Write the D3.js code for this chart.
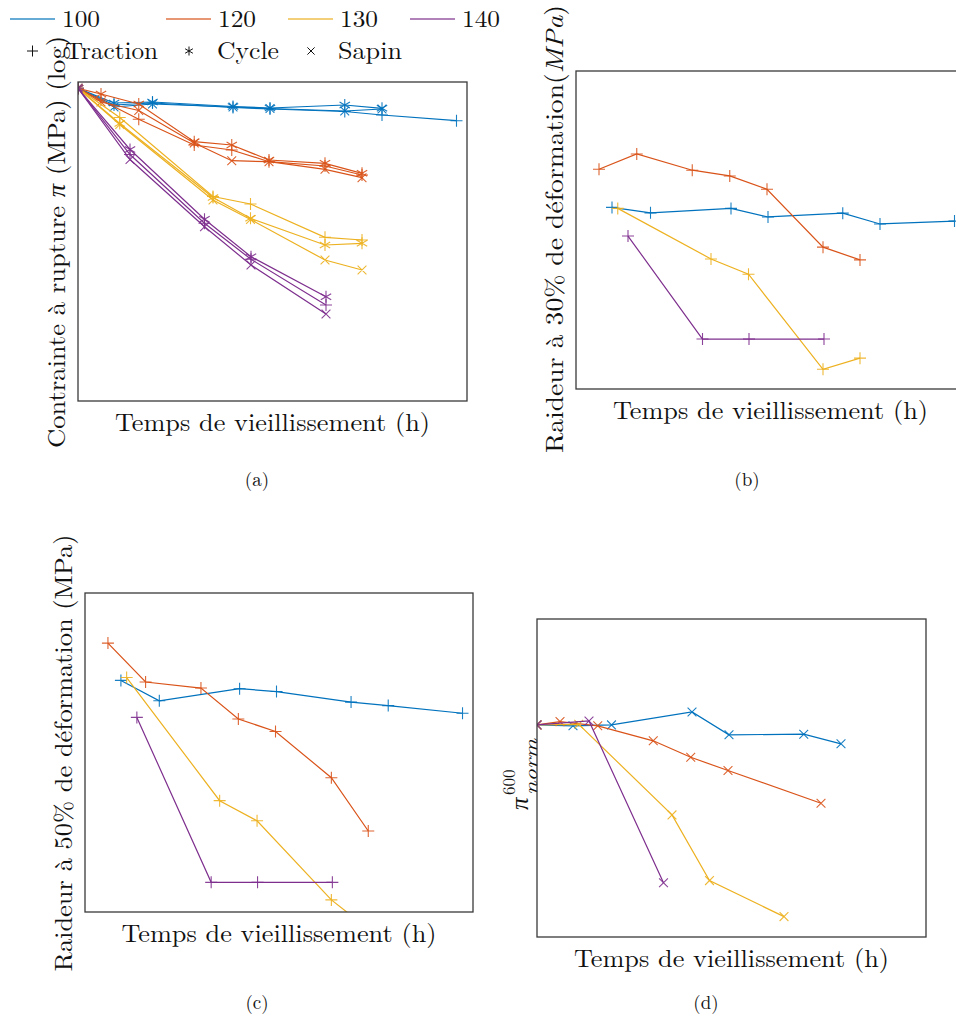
<!DOCTYPE html>
<html><head><meta charset="utf-8">
<script src="https://cdn.jsdelivr.net/npm/d3@7"></script>
<style>
html,body{margin:0;padding:0;background:#fff;overflow:hidden}
text{font-family:"Latin Modern Roman","CMU Serif","Liberation Serif",serif;fill:#111}
</style></head>
<body>
<svg id="chart" width="956" height="1019"></svg>
<script>
// ---------- DATA ----------
const temps = ["100", "120", "130", "140"];
const essais = ["Traction", "Cycle", "Sapin"];
// ageing times (h)
const t100 = [0, 144, 298, 620, 768, 1067, 1216, 1514];
const t120 = [0, 92, 243, 465, 615, 764, 988, 1136];
const t130 = [0, 167, 540, 690, 988, 1136];
const t140 = [0, 208, 506, 692, 992];
// (a) log of failure stress, normalised (x100)
const a100Traction = [0, -1.67, -1.47, -1.92, -2.07, -2.32, -2.67, -3.24];
const a100Cycle    = [0, -1.47, -1.37, -1.82, -1.97, -1.67, -2.00];
const a100Sapin    = [0, -1.87, -1.57, -1.87, -2.02, -2.27, -2.07];
const a120Traction = [0, -1.17, -3.10, -5.67, -6.17, -7.34, -7.77, -8.67];
const a120Cycle    = [0, -0.57, -1.57, -5.34, -5.67, -7.17, -7.50, -8.50];
const a120Sapin    = [0, -1.37, -2.22, -5.47, -7.24, -7.34, -8.10, -8.94];
const a130Traction = [0, -2.92, -10.82, -11.57, -14.90, -15.17];
const a130Cycle    = [0, -3.52, -10.92, -13.00, -15.67, -15.50];
const a130Sapin    = [0, -3.62, -11.17, -13.12, -17.17, -18.17];
const a140Traction = [0, -6.62, -13.50, -17.10, -21.67];
const a140Cycle    = [0, -6.12, -13.10, -16.84, -20.84];
const a140Sapin    = [0, -7.12, -13.84, -17.67, -22.57];
// (b) stiffness at 30% strain
const b100 = [5.71, 5.54, 5.68, 5.41, 5.53, 5.19, 5.28];
const b120 = [6.91, 7.39, 6.88, 6.70, 6.28, 4.46, 4.06];
const b130 = [5.68, 4.09, 3.61, 0.62, 0.97];
const b140 = [4.81, 1.57, 1.57, 1.57];
// (c) stiffness at 50% strain
const c100 = [7.26, 6.62, 7.00, 6.91, 6.58, 6.47, 6.23];
const c120 = [8.43, 7.21, 7.02, 6.05, 5.66, 4.21, 2.54];
const c130 = [7.35, 3.49, 2.86, 0.38, -0.53];
const c140 = [6.10, 0.93, 0.93, 0.93];
// (d) normalised pi 600 (Sapin)
const d100 = [1, 0.997, 1, 1.043, 0.967, 0.969, 0.937];
const d120 = [1, 1.011, 0.997, 0.947, 0.892, 0.848, 0.739];
const d130 = [1, 1.002, 0.700, 0.481, 0.361];
const d140 = [1, 1.013, 0.474];
const t120d = [0, 92, 243, 465, 615, 764, 1136];

// ---------- STYLE ----------
const colors = {"100": "#0072BD", "120": "#D95319", "130": "#EDB120", "140": "#7E2F8E"};
const markerOf = {Traction: "plus", Cycle: "aster", Sapin: "cross"};
const svg = d3.select("#chart");
const xDom = [0, 1556];

function markerPath(type, x, y, s) {
  if (type === "plus") return `M${x - s},${y}H${x + s}M${x},${y - s}V${y + s}`;
  if (type === "cross") { const c = s * 0.8; return `M${x - c},${y - c}L${x + c},${y + c}M${x - c},${y + c}L${x + c},${y - c}`; }
  const cx = s * Math.cos(Math.PI / 6), cy = s * Math.sin(Math.PI / 6);
  return `M${x},${y - s}V${y + s}M${x - cx},${y - cy}L${x + cx},${y + cy}M${x - cx},${y + cy}L${x + cx},${y - cy}`;
}

let clipId = 0;
function panel(box, yDom) {
  const x = d3.scaleLinear(xDom, [box.l, box.r]);
  const y = d3.scaleLinear(yDom, [box.b, box.t]);
  const id = "clip" + (clipId++);
  svg.append("clipPath").attr("id", id).append("rect")
    .attr("x", box.l).attr("y", box.t).attr("width", box.r - box.l).attr("height", box.b - box.t);
  const g = svg.append("g").attr("clip-path", `url(#${id})`);
  svg.append("rect").attr("x", box.l).attr("y", box.t).attr("width", box.r - box.l).attr("height", box.b - box.t)
    .attr("fill", "none").attr("stroke", "#3a3a3a").attr("stroke-width", 1.3);
  return {x, y, g, box};
}
function series(p, times, vals, color, mk) {
  const pts = d3.zip(times, vals);
  const line = d3.line().x(d => p.x(d[0])).y(d => p.y(d[1]));
  p.g.append("path").attr("d", line(pts)).attr("fill", "none").attr("stroke", color).attr("stroke-width", 1.2);
  p.g.append("path").attr("d", pts.map(d => markerPath(mk, p.x(d[0]), p.y(d[1]), mk === "cross" ? 5.5 : 6)).join(""))
    .attr("fill", "none").attr("stroke", color).attr("stroke-width", 1.1).attr("opacity", 0.9);
}
function xLabel(p, len) {
  svg.append("text").attr("x", (p.box.l + p.box.r) / 2).attr("y", p.box.b + 30)
    .attr("text-anchor", "middle").attr("font-size", 25).attr("textLength", len).attr("lengthAdjust", "spacingAndGlyphs")
    .text("Temps de vieillissement (h)");
}
function yLabel(xb, yc, len, parts) {
  const t = svg.append("text").attr("transform", `translate(${xb},${yc}) rotate(-90)`)
    .attr("text-anchor", "middle").attr("font-size", 25).attr("textLength", len).attr("lengthAdjust", "spacingAndGlyphs");
  parts.forEach(([s, it]) => t.append("tspan").attr("font-style", it ? "italic" : null).text(s));
}
function caption(cx, by, s) {
  svg.append("text").attr("x", cx).attr("y", by).attr("text-anchor", "middle").attr("font-size", 19).text(s);
}

// ---------- (a) ----------
const pa = panel({l: 78, r: 467, t: 82, b: 401}, [-31.27, 0.63]);
const aData = {
  "100": [t100, {Traction: a100Traction, Cycle: a100Cycle, Sapin: a100Sapin}],
  "120": [t120, {Traction: a120Traction, Cycle: a120Cycle, Sapin: a120Sapin}],
  "130": [t130, {Traction: a130Traction, Cycle: a130Cycle, Sapin: a130Sapin}],
  "140": [t140, {Traction: a140Traction, Cycle: a140Cycle, Sapin: a140Sapin}]
};
temps.forEach(T => {
  const [times, obj] = aData[T];
  essais.forEach(e => series(pa, times.slice(0, obj[e].length), obj[e], colors[T], markerOf[e]));
});
xLabel(pa, 315);
yLabel(65, 242, 412, [["Contrainte à rupture ", false], ["π", true], [" (MPa) (log)", false]]);
caption(257, 486, "(a)");

// ---------- (b) ----------
const pb = panel({l: 576, r: 965, t: 71, b: 389}, [0, 10]);
[[t100, b100, "100"], [t120, b120, "120"], [t130, b130, "130"], [t140, b140, "140"]]
  .forEach(([t, v, T]) => series(pb, t.slice(1), v, colors[T], "plus"));
xLabel(pb, 315);
yLabel(563, 229, 448, [["Raideur à 30% de déformation(", false], ["MPa", true], [")", false]]);
caption(747, 486, "(b)");

// ---------- (c) ----------
const pc = panel({l: 85, r: 473, t: 593, b: 912}, [0, 10]);
[[t100, c100, "100"], [t120, c120, "120"], [t130, c130, "130"], [t140, c140, "140"]]
  .forEach(([t, v, T]) => series(pc, t.slice(1), v, colors[T], "plus"));
xLabel(pc, 315);
yLabel(72, 753, 437, [["Raideur à 50% de déformation (MPa)", false]]);
caption(257, 1009, "(c)");

// ---------- (d) ----------
const pd = panel({l: 537, r: 926, t: 619, b: 937}, [0.293, 1.353]);
[[t100, d100, "100"], [t120d, d120, "120"], [t130, d130, "130"], [t140, d140, "140"]]
  .forEach(([t, v, T]) => series(pd, t.slice(0, v.length), v, colors[T], "cross"));
xLabel(pd, 315);
const gl = svg.append("g").attr("transform", "translate(528,778) rotate(-90)");
gl.append("text").attr("x", -32).attr("y", 0).attr("font-size", 25).attr("font-style", "italic").text("π");
gl.append("text").attr("x", -17).attr("y", -13).attr("font-size", 17).text("600");
gl.append("text").attr("x", -17).attr("y", 9).attr("font-size", 18).attr("font-style", "italic")
  .attr("textLength", 56).attr("lengthAdjust", "spacingAndGlyphs").text("norm");
caption(706, 1009, "(d)");

// ---------- legend ----------
const legX = [10, 166, 288, 410];
temps.forEach((T, i) => {
  svg.append("line").attr("x1", legX[i]).attr("x2", legX[i] + 45).attr("y1", 19).attr("y2", 19)
    .attr("stroke", colors[T]).attr("stroke-width", 1.3).attr("opacity", 0.8);
  svg.append("text").attr("x", legX[i] + 52).attr("y", 27).attr("font-size", 24)
    .attr("textLength", 38).attr("lengthAdjust", "spacingAndGlyphs").text(T);
});
const legM = [[32.5, 65, 93], [189, 217, 62], [311, 338, 64]];
essais.forEach((e, i) => {
  const [mx, tx, w] = legM[i];
  svg.append("path").attr("d", markerPath(markerOf[e], mx, 51, e === "Traction" ? 5.5 : 4.5))
    .attr("stroke", "#111").attr("stroke-width", 1).attr("fill", "none");
  svg.append("text").attr("x", tx).attr("y", 59).attr("font-size", 24)
    .attr("textLength", w).attr("lengthAdjust", "spacingAndGlyphs").text(e);
});
</script>
</body></html>
